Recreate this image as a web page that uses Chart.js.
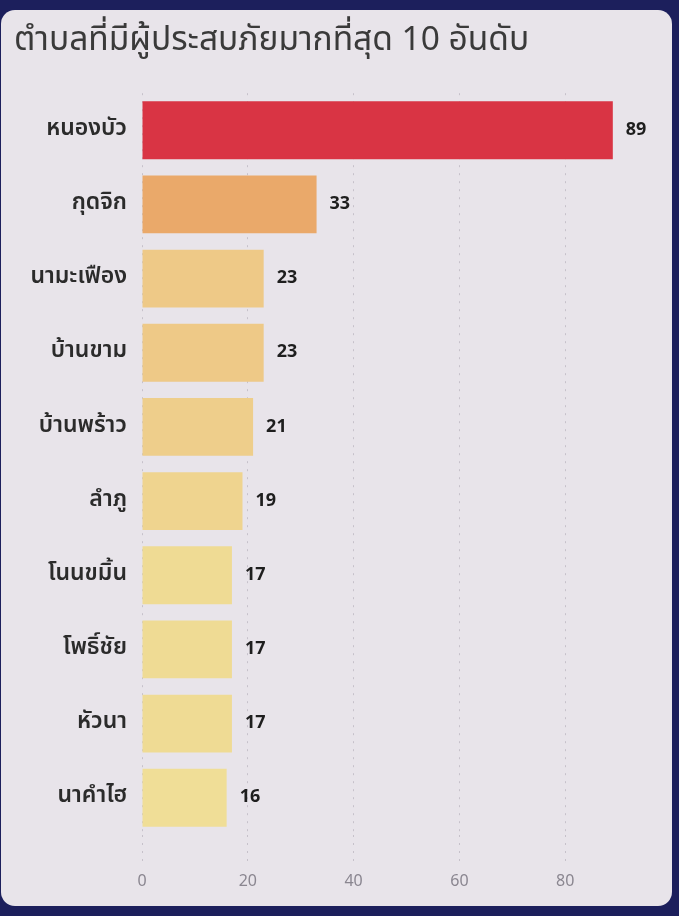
<!DOCTYPE html>
<html lang="th">
<head>
<meta charset="utf-8">
<script src="https://cdn.jsdelivr.net/npm/chart.js@4"></script>
<style>
  html, body { margin: 0; padding: 0; background: #1c1f5c; }
  body { width: 679px; height: 916px; position: relative; overflow: hidden; }
  .card {
    position: absolute; left: 1px; top: 10px; width: 671px; height: 896px;
    background: #e8e4ea; border-radius: 14px; overflow: hidden;
  }
  canvas { display: block; }
</style>
</head>
<body>
<div class="card"><canvas id="topChart" width="671" height="896"></canvas></div>
<script>
// ตำบลที่มีผู้ประสบภัยมากที่สุด 10 อันดับ
const tambons = ['หนองบัว', 'กุดจิก', 'นามะเฟือง', 'บ้านขาม', 'บ้านพร้าว', 'ลำภู', 'โนนขมิ้น', 'โพธิ์ชัย', 'หัวนา', 'นาคำไฮ'];
const victims = [89, 33, 23, 23, 21, 19, 17, 17, 17, 16];
const barColors = ['#d93444', '#eaa96a', '#eec987', '#eec987', '#eece8b', '#efd48f', '#efdb94', '#efdb94', '#efdb94', '#f0de97'];
const xTicks = [0, 20, 40, 60, 80];

const thaiFont = "'Noto Sans Thai', 'Noto Sans', 'DejaVu Sans', sans-serif";

document.addEventListener('DOMContentLoaded', () => {
  // ตัวเลขที่ปลายแท่ง
  const valueLabels = {
    id: 'valueLabels',
    afterDatasetsDraw(chart) {
      const ctx = chart.ctx;
      const meta = chart.getDatasetMeta(0);
      ctx.save();
      ctx.font = 'bold 18px ' + thaiFont;
      ctx.fillStyle = '#1e1e1e';
      ctx.textAlign = 'left';
      ctx.textBaseline = 'middle';
      meta.data.forEach((bar, i) => {
        ctx.fillText(String(victims[i]), bar.x + 13, bar.y + 1);
      });
      ctx.restore();
    }
  };

  new Chart(document.getElementById('topChart'), {
    type: 'bar',
    data: {
      labels: tambons,
      datasets: [{
        data: victims,
        backgroundColor: barColors,
        borderWidth: 0,
        categoryPercentage: 1,
        barPercentage: 0.78
      }]
    },
    options: {
      indexAxis: 'y',
      responsive: false,
      animation: false,
      layout: { padding: { left: 13, right: 1, top: 0, bottom: 6 } },
      plugins: {
        legend: { display: false },
        tooltip: { enabled: false },
        title: {
          display: true,
          text: 'ตำบลที่มีผู้ประสบภัยมากที่สุด 10 อันดับ',
          align: 'start',
          color: '#3a3a3a',
          font: { family: thaiFont, size: 33.5, weight: 'normal' },
          padding: { top: 13, bottom: 30 }
        }
      },
      scales: {
        x: {
          min: 0,
          max: 100,
          afterBuildTicks: (scale) => { scale.ticks = xTicks.map(v => ({ value: v })); },
          border: { display: false, dash: [2, 6] },
          grid: {
            color: '#c6c1ca',
            tickLength: 30,
            tickColor: '#c6c1ca',
            tickBorderDash: [2, 6]
          },
          ticks: {
            color: '#8a8690',
            font: { family: thaiFont, size: 16 },
            padding: 8
          }
        },
        y: {
          border: { display: false },
          grid: { display: false },
          afterFit: (scale) => { scale.width = 128; },
          ticks: {
            color: '#2b2b2b',
            font: { family: thaiFont, size: 23, weight: '600' },
            padding: 7
          }
        }
      }
    },
    plugins: [valueLabels]
  });
});
</script>
</body>
</html>
